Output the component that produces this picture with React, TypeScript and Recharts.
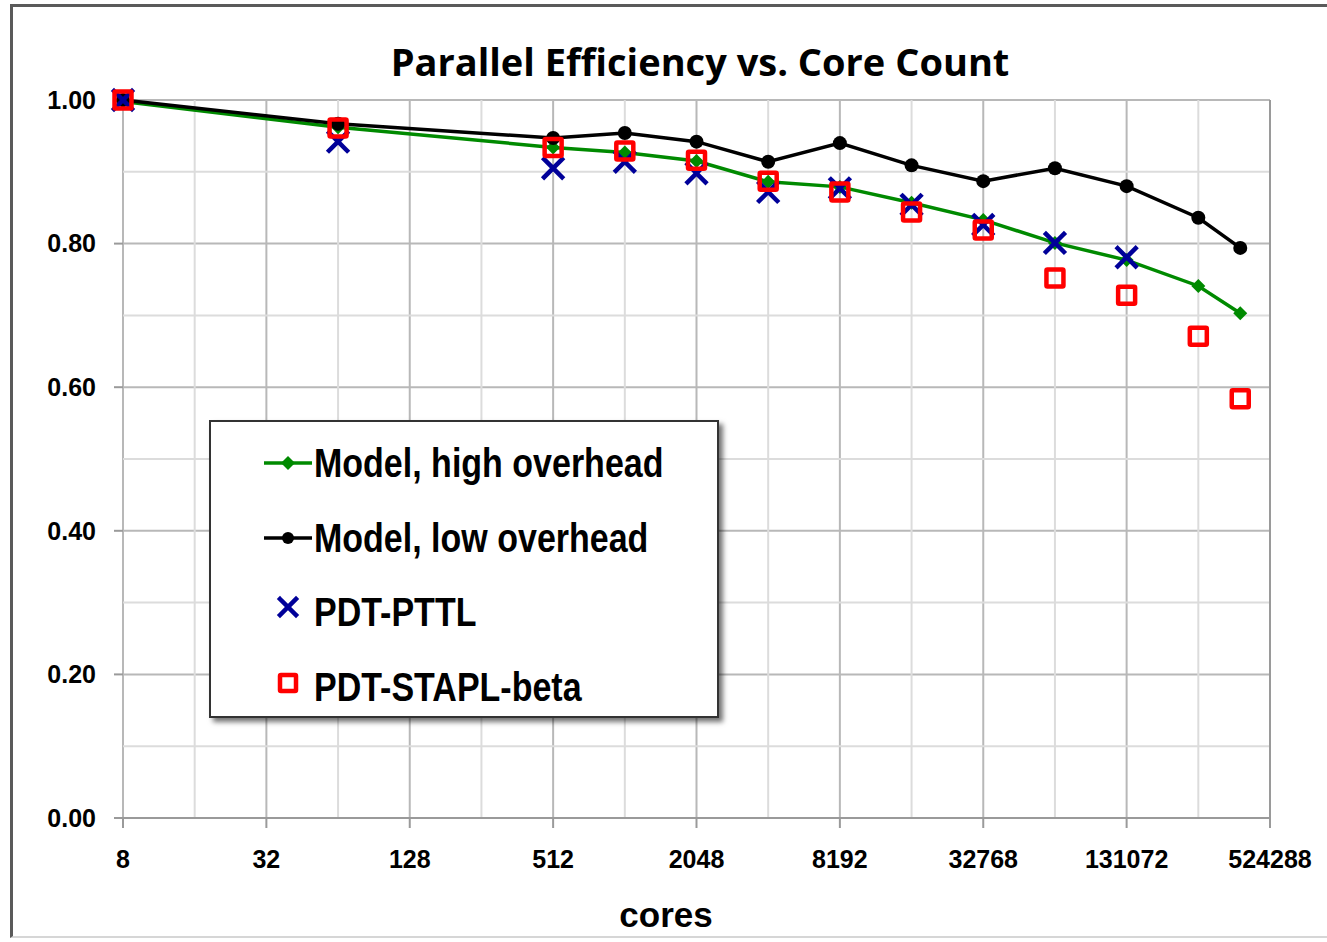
import {
  ComposedChart,
  Line,
  XAxis,
  YAxis,
  CartesianGrid,
  ReferenceLine,
} from 'recharts'

const CORES = [8, 64, 512, 1024, 2048, 4096, 8192, 16384, 32768, 65536, 131072, 262144, 393216]
const MODEL_HIGH = [0.998, 0.962, 0.934, 0.927, 0.915, 0.886, 0.879, 0.857, 0.833, 0.801, 0.777, 0.741, 0.703]
const MODEL_LOW = [1.0, 0.967, 0.947, 0.954, 0.942, 0.914, 0.94, 0.909, 0.887, 0.905, 0.88, 0.836, 0.794]
const PDT_PTTL = [1.0, 0.942, 0.905, 0.914, 0.898, 0.872, 0.877, 0.854, 0.826, 0.801, 0.781, null, null]
const PDT_STAPL = [1.0, 0.961, 0.934, 0.929, 0.916, 0.887, 0.872, 0.844, 0.819, 0.752, 0.728, 0.671, 0.584]

const X_TICKS = [8, 32, 128, 512, 2048, 8192, 32768, 131072, 524288]
const X_MINOR = [16, 64, 256, 1024, 4096, 16384, 65536, 262144]
const Y_TICKS = [0, 0.2, 0.4, 0.6, 0.8, 1.0]
const Y_MINOR = [0.1, 0.3, 0.5, 0.7, 0.9]

const LEGEND_NAMES = ['Model, high overhead', 'Model, low overhead', 'PDT-PTTL', 'PDT-STAPL-beta']

const GREEN = '#008a00'
const BLUE = '#000099'
const RED = '#ff0000'

const rows = CORES.map((cores, i) => ({
  cores,
  high: MODEL_HIGH[i],
  low: MODEL_LOW[i],
  pttl: PDT_PTTL[i],
  stapl: PDT_STAPL[i],
}))

const TICK_STYLE = { fill: '#000', fontSize: 25, fontWeight: 700, fontFamily: '"Liberation Sans", Arial, sans-serif' }

type DotProps = { cx?: number; cy?: number; index?: number; value?: unknown }

const ok = (p: DotProps) => p.cx != null && p.cy != null && p.value != null && !Number.isNaN(p.cy)

const Diamond = ({ cx, cy, size = 7 }: { cx: number; cy: number; size?: number }) => (
  <polygon points={`${cx},${cy - size} ${cx + size},${cy} ${cx},${cy + size} ${cx - size},${cy}`} fill={GREEN} />
)

const Cross = ({ cx, cy, h = 9 }: { cx: number; cy: number; h?: number }) => (
  <g stroke={BLUE} strokeWidth={4.5} strokeLinecap="square">
    <line x1={cx - h} y1={cy - h} x2={cx + h} y2={cy + h} />
    <line x1={cx - h} y1={cy + h} x2={cx + h} y2={cy - h} />
  </g>
)

const Square = ({ cx, cy, h = 8.5 }: { cx: number; cy: number; h?: number }) => (
  <rect x={cx - h} y={cy - h} width={h * 2} height={h * 2} fill="none" stroke={RED} strokeWidth={4.5} rx={1} />
)

const renderDiamond = (p: DotProps) =>
  ok(p) ? <Diamond key={`d-${p.index}`} cx={p.cx!} cy={p.cy!} /> : <g key={`d-${p.index}`} />
const renderCircle = (p: DotProps) =>
  ok(p) ? <circle key={`c-${p.index}`} cx={p.cx} cy={p.cy} r={7} fill="#000" /> : <g key={`c-${p.index}`} />
const renderCross = (p: DotProps) =>
  ok(p) ? <Cross key={`x-${p.index}`} cx={p.cx!} cy={p.cy!} /> : <g key={`x-${p.index}`} />
const renderSquare = (p: DotProps) =>
  ok(p) ? <Square key={`s-${p.index}`} cx={p.cx!} cy={p.cy!} /> : <g key={`s-${p.index}`} />

function LegendBox() {
  const samples = [
    <g>
      <line x1={2} y1={20} x2={50} y2={20} stroke={GREEN} strokeWidth={3.5} />
      <Diamond cx={26} cy={20} size={7} />
    </g>,
    <g>
      <line x1={2} y1={20} x2={50} y2={20} stroke="#000" strokeWidth={3.5} />
      <circle cx={26} cy={20} r={6} fill="#000" />
    </g>,
    <Cross cx={26} cy={15} h={8} />,
    <Square cx={26} cy={16} h={8} />,
  ]
  return (
    <div
      style={{
        position: 'absolute',
        left: 209,
        top: 420,
        width: 506,
        height: 294,
        border: '2px solid #333',
        background: '#fff',
        boxShadow: '4px 4px 5px rgba(0,0,0,0.55)',
      }}
    >
      {LEGEND_NAMES.map((name, i) => (
        <div
          key={name}
          style={{ position: 'absolute', left: 51, top: 19 + i * 74.5, height: 44, display: 'flex', alignItems: 'center' }}
        >
          <svg width={52} height={40} style={{ display: 'block' }}>
            {samples[i]}
          </svg>
          <span
            style={{
              display: 'inline-block',
              fontFamily: '"Liberation Sans", Arial, sans-serif',
              fontWeight: 700,
              fontSize: 40,
              color: '#000',
              lineHeight: '44px',
              whiteSpace: 'nowrap',
              transform: 'scaleX(0.85)',
              transformOrigin: 'left center',
            }}
          >
            {name}
          </span>
        </div>
      ))}
    </div>
  )
}

export default function App() {
  return (
    <div style={{ position: 'absolute', left: 0, top: 0, width: 1327, height: 942, background: '#fff', overflow: 'hidden' }}>
      <div
        style={{
          position: 'absolute',
          left: 10,
          top: 4,
          width: 1317,
          height: 934,
          borderLeft: '3px solid #5a5a5a',
          borderTop: '3px solid #5a5a5a',
          borderBottom: '2px solid #d6d6d6',
          boxSizing: 'border-box',
        }}
      />
      <div
        style={{
          position: 'absolute',
          left: 700,
          top: 36,
          transform: 'translateX(-50%)',
          whiteSpace: 'nowrap',
          fontFamily: '"Open Sans", sans-serif',
          fontWeight: 700,
          fontSize: 38,
          color: '#000',
          lineHeight: '50px',
        }}
      >
        Parallel Efficiency vs. Core Count
      </div>
      <div style={{ position: 'absolute', left: 0, top: 0 }}>
        <ComposedChart
          width={1327}
          height={942}
          data={rows}
          margin={{ top: 100, right: 57, bottom: 64, left: 43 }}
        >
          <CartesianGrid stroke="#b8b8b8" strokeWidth={2} />
          {X_MINOR.map((v) => (
            <ReferenceLine key={`xm-${v}`} x={v} stroke="#dcdcdc" strokeWidth={2} />
          ))}
          {Y_MINOR.map((v) => (
            <ReferenceLine key={`ym-${v}`} y={v} stroke="#dcdcdc" strokeWidth={2} />
          ))}
          <ReferenceLine x={524288} stroke="#9a9a9a" strokeWidth={2} />
          <XAxis
            dataKey="cores"
            type="number"
            scale="log"
            domain={[8, 524288]}
            ticks={X_TICKS}
            height={60}
            tickSize={10}
            tickMargin={22}
            stroke="#9a9a9a"
            strokeWidth={2}
            tick={TICK_STYLE}
            interval={0}
          />
          <YAxis
            type="number"
            domain={[0, 1]}
            ticks={Y_TICKS}
            width={80}
            tickSize={9}
            tickMargin={18}
            axisLine={false}
            tickLine={{ stroke: '#9a9a9a', strokeWidth: 2 }}
            tick={TICK_STYLE}
            tickFormatter={(v: number) => v.toFixed(2)}
            interval={0}
          />
          <Line
            dataKey="high"
            stroke={GREEN}
            strokeWidth={3.5}
            dot={renderDiamond}
            activeDot={false}
            isAnimationActive={false}
          />
          <Line
            dataKey="low"
            stroke="#000"
            strokeWidth={3.5}
            dot={renderCircle}
            activeDot={false}
            isAnimationActive={false}
          />
          <Line
            dataKey="pttl"
            stroke="none"
            dot={renderCross}
            activeDot={false}
            isAnimationActive={false}
          />
          <Line
            dataKey="stapl"
            stroke="none"
            dot={renderSquare}
            activeDot={false}
            isAnimationActive={false}
          />
        </ComposedChart>
      </div>
      <div
        style={{
          position: 'absolute',
          left: 566,
          width: 200,
          top: 893,
          textAlign: 'center',
          fontFamily: '"Liberation Sans", Arial, sans-serif',
          fontWeight: 700,
          fontSize: 35,
          color: '#000',
          lineHeight: '44px',
        }}
      >
        cores
      </div>
      <LegendBox />
    </div>
  )
}
